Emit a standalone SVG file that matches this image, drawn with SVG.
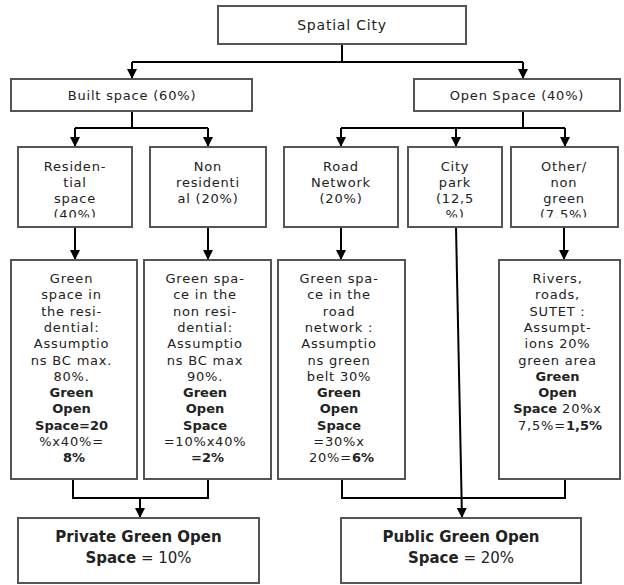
<svg xmlns="http://www.w3.org/2000/svg" width="624" height="585" viewBox="0 0 624 585">
<style>
.box{fill:#fff;stroke:#555;stroke-width:2}
.t{font-family:"DejaVu Sans",Verdana,sans-serif;font-size:13px;letter-spacing:0.8px;fill:#222;text-anchor:middle}
.title{font-size:14px}
.b{font-weight:bold;letter-spacing:0}
.big{font-size:15px;letter-spacing:0}
.c{fill:none;stroke:#000;stroke-width:2}
</style>
<defs>
<marker id="ah" markerUnits="userSpaceOnUse" markerWidth="10" markerHeight="10" viewBox="0 0 10 10" refX="10" refY="5" orient="auto">
<path d="M0,0 L10,5 L0,10 Z" fill="#000"/>
</marker>
<clipPath id="clipRow2"><rect x="0" y="147" width="624" height="70.5"/></clipPath>
</defs>

<g id="connectors">
<path class="c" d="M342,44 V62"/>
<path class="c" d="M132,62 H523"/>
<path class="c" d="M132,62 V79" marker-end="url(#ah)"/>
<path class="c" d="M523,62 V79" marker-end="url(#ah)"/>
<path class="c" d="M132,111 V128"/>
<path class="c" d="M75,128 H208"/>
<path class="c" d="M75,128 V147" marker-end="url(#ah)"/>
<path class="c" d="M208,128 V147" marker-end="url(#ah)"/>
<path class="c" d="M523,111 V128"/>
<path class="c" d="M341,128 H565"/>
<path class="c" d="M341,128 V147" marker-end="url(#ah)"/>
<path class="c" d="M456,128 V147" marker-end="url(#ah)"/>
<path class="c" d="M565,128 V147" marker-end="url(#ah)"/>
<path class="c" d="M75,227 V260" marker-end="url(#ah)"/>
<path class="c" d="M208,227 V260" marker-end="url(#ah)"/>
<path class="c" d="M341,227 V260" marker-end="url(#ah)"/>
<path class="c" d="M564,227 V260" marker-end="url(#ah)"/>
<path class="c" d="M456,227 L462,518" marker-end="url(#ah)"/>
<path class="c" d="M73,479 V498 H208 V479"/>
<path class="c" d="M140,498 V518" marker-end="url(#ah)"/>
<path class="c" d="M342,479 V498 H565 V479"/>
</g>

<g id="spatial-city">
<rect class="box" x="218" y="6" width="248" height="38"/>
<text class="t title" x="342" y="30">Spatial City</text>
</g>

<g id="built-space">
<rect class="box" x="11" y="79" width="241" height="32"/>
<text class="t" x="132" y="100">Built space (60%)</text>
</g>

<g id="open-space">
<rect class="box" x="414" y="79" width="206" height="32"/>
<text class="t" x="517" y="100">Open Space (40%)</text>
</g>

<g id="residential">
<rect class="box" x="18" y="147" width="114" height="80"/>
<text class="t" clip-path="url(#clipRow2)"><tspan x="75" y="171">Residen-</tspan><tspan x="75" y="187">tial</tspan><tspan x="75" y="203">space</tspan><tspan x="75" y="219">(40%)</tspan></text>
</g>

<g id="non-residential">
<rect class="box" x="150" y="147" width="116" height="80"/>
<text class="t"><tspan x="208" y="171">Non</tspan><tspan x="208" y="187">residenti</tspan><tspan x="208" y="203">al (20%)</tspan></text>
</g>

<g id="road-network">
<rect class="box" x="284" y="147" width="114" height="80"/>
<text class="t"><tspan x="341" y="171">Road</tspan><tspan x="341" y="187">Network</tspan><tspan x="341" y="203">(20%)</tspan></text>
</g>

<g id="city-park">
<rect class="box" x="408" y="147" width="94" height="80"/>
<text class="t" clip-path="url(#clipRow2)"><tspan x="455" y="171">City</tspan><tspan x="455" y="187">park</tspan><tspan x="455" y="203">(12,5</tspan><tspan x="455" y="219">%)</tspan></text>
</g>

<g id="other-non-green">
<rect class="box" x="511" y="147" width="107" height="80"/>
<text class="t" clip-path="url(#clipRow2)"><tspan x="564" y="171">Other/</tspan><tspan x="564" y="187">non</tspan><tspan x="564" y="203">green</tspan><tspan x="564" y="219">(7.5%)</tspan></text>
</g>

<g id="green-residential">
<rect class="box" x="11" y="260" width="126" height="219"/>
<text class="t">
<tspan x="74" y="283">Green</tspan>
<tspan x="74" y="299.3">space in</tspan>
<tspan x="74" y="315.6">the resi-</tspan>
<tspan x="74" y="331.9">dential:</tspan>
<tspan x="74" y="348.2">Assumptio</tspan>
<tspan x="74" y="364.5">ns BC max.</tspan>
<tspan x="74" y="380.8">80%.</tspan>
<tspan x="74" y="397.1" class="b">Green</tspan>
<tspan x="74" y="413.4" class="b">Open</tspan>
<tspan x="74" y="429.7" class="b">Space=20</tspan>
<tspan x="74" y="446">%x40%=</tspan>
<tspan x="74" y="462.3" class="b">8%</tspan>
</text>
</g>

<g id="green-non-residential">
<rect class="box" x="144" y="260" width="127" height="219"/>
<text class="t">
<tspan x="207.5" y="283">Green spa-</tspan>
<tspan x="207.5" y="299.3">ce in the</tspan>
<tspan x="207.5" y="315.6">non resi-</tspan>
<tspan x="207.5" y="331.9">dential:</tspan>
<tspan x="207.5" y="348.2">Assumptio</tspan>
<tspan x="207.5" y="364.5">ns BC max</tspan>
<tspan x="207.5" y="380.8">90%.</tspan>
<tspan x="207.5" y="397.1" class="b">Green</tspan>
<tspan x="207.5" y="413.4" class="b">Open</tspan>
<tspan x="207.5" y="429.7" class="b">Space</tspan>
<tspan x="207.5" y="446">=10%x40%</tspan>
<tspan x="207.5" y="462.3" class="b">=2%</tspan>
</text>
</g>

<g id="green-road">
<rect class="box" x="278" y="260" width="127" height="219"/>
<text class="t">
<tspan x="341.5" y="283">Green spa-</tspan>
<tspan x="341.5" y="299.3">ce in the</tspan>
<tspan x="341.5" y="315.6">road</tspan>
<tspan x="341.5" y="331.9">network :</tspan>
<tspan x="341.5" y="348.2">Assumptio</tspan>
<tspan x="341.5" y="364.5">ns green</tspan>
<tspan x="341.5" y="380.8">belt 30%</tspan>
<tspan x="341.5" y="397.1" class="b">Green</tspan>
<tspan x="341.5" y="413.4" class="b">Open</tspan>
<tspan x="341.5" y="429.7" class="b">Space</tspan>
<tspan x="341.5" y="446">=30%x</tspan>
<tspan x="341.5" y="462.3">20%=<tspan class="b">6%</tspan></tspan>
</text>
</g>

<g id="green-other">
<rect class="box" x="499" y="260" width="121" height="219"/>
<text class="t">
<tspan x="560" y="283">Rivers,</tspan>
<tspan x="560" y="299.3">roads,</tspan>
<tspan x="560" y="315.6">SUTET :</tspan>
<tspan x="560" y="331.9">Assumpt-</tspan>
<tspan x="560" y="348.2">ions 20%</tspan>
<tspan x="560" y="364.5">green area</tspan>
<tspan x="560" y="380.8" class="b">Green</tspan>
<tspan x="560" y="397.1" class="b">Open</tspan>
<tspan x="560" y="413.4"><tspan class="b">Space</tspan> 20%x</tspan>
<tspan x="560" y="429.7">7,5%=<tspan class="b">1,5%</tspan></tspan>
</text>
</g>

<g id="private-green-open-space">
<rect class="box" x="18" y="518" width="241" height="65"/>
<text class="t big"><tspan x="138.5" y="542" class="b">Private Green Open</tspan><tspan x="138.5" y="563"><tspan class="b">Space</tspan>  = 10%</tspan></text>
</g>

<g id="public-green-open-space">
<rect class="box" x="341" y="518" width="240" height="65"/>
<text class="t big"><tspan x="461" y="542" class="b">Public Green Open</tspan><tspan x="461" y="563"><tspan class="b">Space</tspan> = 20%</tspan></text>
</g>
</svg>
